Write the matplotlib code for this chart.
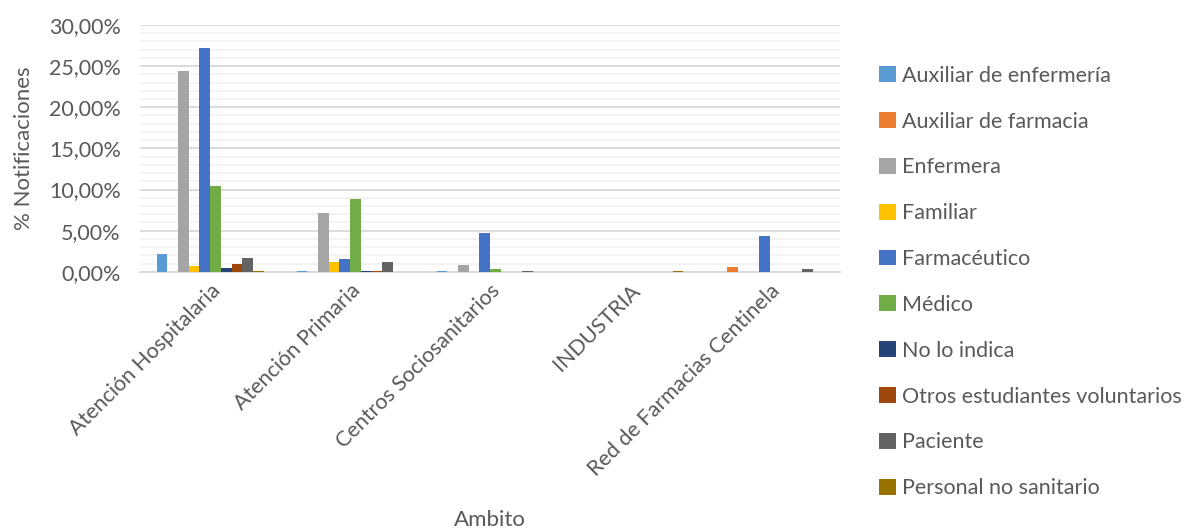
import numpy as np
import matplotlib
matplotlib.use("Agg")
import matplotlib.pyplot as plt
from matplotlib.ticker import MultipleLocator, FuncFormatter

plt.rcParams['font.family'] = ['Lato', 'DejaVu Sans']

# ==============================
# Datos
# ==============================
ambitos = ["Atención Hospitalaria", "Atención Primaria", "Centros Sociosanitarios",
           "INDUSTRIA", "Red de Farmacias Centinela"]

series = ["Auxiliar de enfermería", "Auxiliar de farmacia", "Enfermera", "Familiar",
          "Farmacéutico", "Médico", "No lo indica", "Otros estudiantes voluntarios",
          "Paciente", "Personal no sanitario"]

aux_enfermeria = [2.2, 0.15, 0.1, 0.0, 0.0]
aux_farmacia = [0.0, 0.0, 0.0, 0.0, 0.55]
enfermera = [24.4, 7.1, 0.8, 0.0, 0.0]
familiar = [0.75, 1.2, 0.0, 0.0, 0.0]
farmaceutico = [27.2, 1.55, 4.7, 0.0, 4.4]
medico = [10.4, 8.9, 0.3, 0.0, 0.0]
no_lo_indica = [0.5, 0.05, 0.0, 0.0, 0.0]
otros_estudiantes = [0.95, 0.05, 0.0, 0.0, 0.0]
paciente = [1.65, 1.2, 0.1, 0.0, 0.3]
personal_no_sanitario = [0.1, 0.0, 0.0, 0.1, 0.0]

valores = [aux_enfermeria, aux_farmacia, enfermera, familiar, farmaceutico,
           medico, no_lo_indica, otros_estudiantes, paciente, personal_no_sanitario]

colores = ["#5B9BD5", "#ED7D31", "#A5A5A5", "#FFC000", "#4472C4",
           "#70AD47", "#264478", "#9E480E", "#636363", "#997300"]

# ==============================
# Figura
# ==============================
fig = plt.figure(figsize=(11.88, 5.31), dpi=100)
ax = fig.add_axes([0.118, 0.488, 0.589, 0.465])

x = np.arange(len(ambitos))
w = 0.0764
n = len(series)
for i, (nombre, vals, c) in enumerate(zip(series, valores, colores)):
    ax.bar(x + (i - (n - 1) / 2) * w, vals, width=w, color=c, label=nombre, zorder=3)

texto = "#595959"
ax.set_xlim(-0.5, len(ambitos) - 0.5)
ax.set_ylim(0, 30)
ax.yaxis.set_major_locator(MultipleLocator(5))
ax.yaxis.set_minor_locator(MultipleLocator(1))
ax.yaxis.set_major_formatter(FuncFormatter(lambda v, p: f"{v:.2f}%".replace(".", ",")))
ax.grid(axis="y", which="major", color="#d9d9d9", linewidth=1.3, zorder=0)
ax.grid(axis="y", which="minor", color="#f2f2f2", linewidth=1.3, zorder=0)
for s in ["top", "right", "left"]:
    ax.spines[s].set_visible(False)
ax.spines["bottom"].set_color("#d9d9d9")
ax.spines["bottom"].set_linewidth(1.3)
ax.tick_params(axis="both", which="both", length=0, colors=texto, labelsize=15.5)
ax.tick_params(axis="y", pad=14)
ax.tick_params(axis="x", pad=6)

ax.set_xticks(x)
ax.set_xticklabels(ambitos, rotation=45, ha="right", rotation_mode="anchor")
ax.set_ylabel("% Notificaciones", color=texto, fontsize=16)
ax.yaxis.set_label_coords(-0.152, 0.5)
fig.text(0.4125, 1 - 520 / 531, "Ambito", color=texto, fontsize=16,
         ha="center", va="center")

leg = fig.legend(loc="center left", bbox_to_anchor=(0.733, 0.469), frameon=False,
                 fontsize=15.5, handlelength=0.75, handleheight=0.75, handletextpad=0.3,
                 labelspacing=1.2, borderaxespad=0)
for t in leg.get_texts():
    t.set_color(texto)

fig.savefig("out.png", dpi=100)
